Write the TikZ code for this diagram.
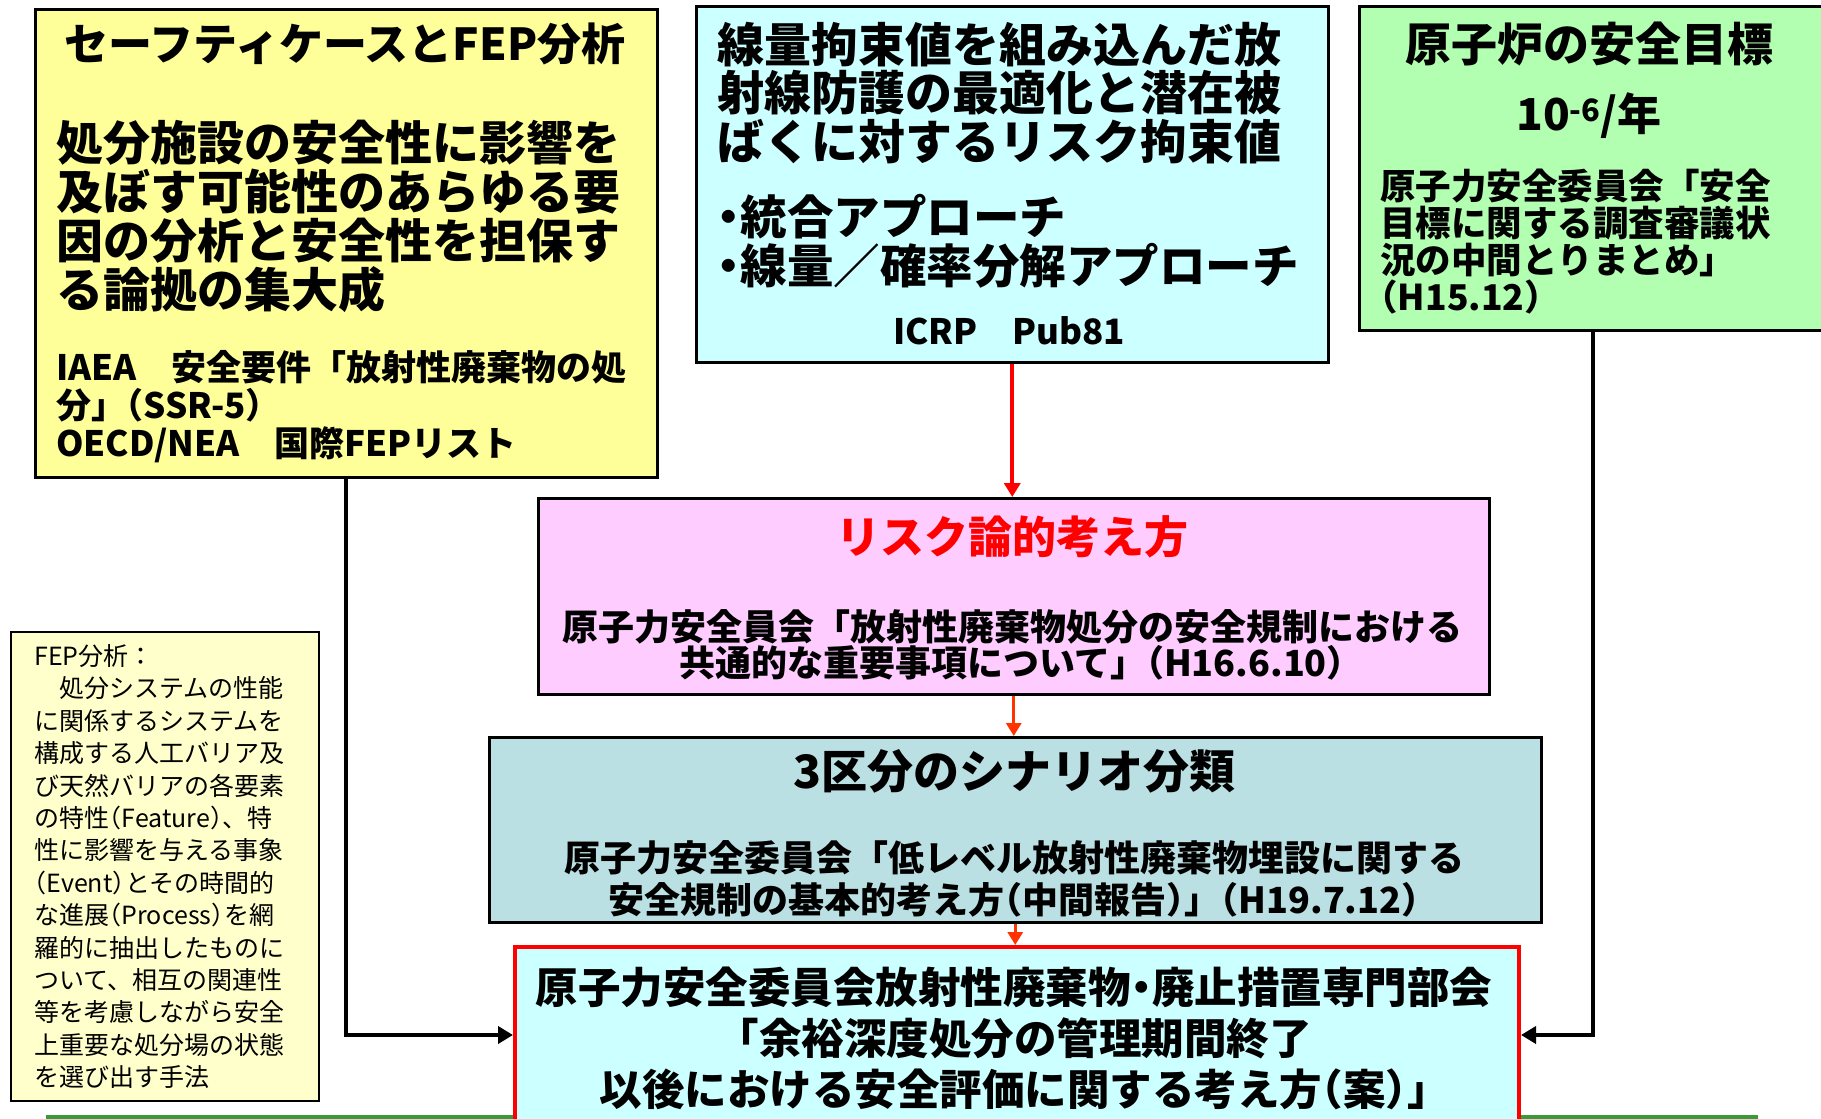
\documentclass[tikz,border=0pt]{standalone}
\usepackage{fontspec}
\setmainfont{Noto Sans CJK JP}
\usetikzlibrary{arrows.meta}
\definecolor{cyellow}{HTML}{FFFF99}
\definecolor{cnote}{HTML}{FFFFCC}
\definecolor{ccyan}{HTML}{CCFFFF}
\definecolor{cgreen}{HTML}{B2FFB2}
\definecolor{cpink}{HTML}{FFCCFF}
\definecolor{cteal}{HTML}{BBE0E3}
\definecolor{cline}{HTML}{3A9A3A}
\definecolor{corange}{HTML}{FF3300}
\newcommand\fsz[2]{\fontsize{#1}{#2}\selectfont}
\newcommand\ndot{\makebox[0.5em][c]{・}}
\newcommand\hw[1]{{\addfontfeature{RawFeature=+halt}#1}}
\tikzset{
  box/.style={draw=black, line width=2.5pt, anchor=north west, inner sep=0pt},
  txt/.style={inner sep=0pt, font=\bfseries},
  blackarrow/.style={draw=black, line width=4pt, -{Triangle[length=15pt,width=17pt]}},
  redarrow/.style={draw=red, line width=4pt, -{Triangle[length=14pt,width=16pt]}},
  orarrow/.style={draw=corange, line width=3pt, -{Triangle[length=13pt,width=15pt]}}
}
\begin{document}
\begin{tikzpicture}[x=1pt,y=-1pt]
\useasboundingbox[fill=white] (0,0) rectangle (1821,1119);

% green base line
\coordinate (la) at (46,1117);
\coordinate (lb) at (1758,1117);
\draw[cline, line width=4pt] (la) -- (lb);

% boxes
\node[box, fill=cyellow, minimum width=622pt, minimum height=468pt] (yl) at (34,8) {};
\node[box, fill=ccyan, minimum width=632pt, minimum height=356pt] (cy) at (695,5) {};
\node[box, fill=cgreen, minimum width=468pt, minimum height=324pt] (gr) at (1358,5) {};
\node[box, fill=cpink, minimum width=951pt, minimum height=196pt] (pk) at (537,497) {};
\node[box, fill=cteal, minimum width=1052pt, minimum height=185pt] (tl) at (488,736) {};
\node[box, fill=ccyan, draw=red, line width=4pt, minimum width=1004pt, minimum height=176pt] (bt) at (513,945) {};
\node[box, fill=cnote, line width=1.5pt, minimum width=308pt, minimum height=469pt] (fn) at (10,631) {};

% yellow box text
\node[txt, font=\bfseries\fsz{44}{48}] (yt) at (345,44) {セーフティケースとFEP分析};
\node[txt, font=\bfseries\fsz{47}{49}, align=left, anchor=west] (yb) at (56,216.5)
  {処分施設の安全性に影響を\\及ぼす可能性のあらゆる要\\因の分析と安全性を担保す\\る論拠の集大成};
\node[txt, font=\bfseries\fsz{35}{38}, align=left, anchor=west] (yr) at (56,407)
  {IAEA　安全要件「放射性廃棄物の処\\分\hw{」}（SSR-5\hw{）}\\OECD/NEA　国際FEPリスト};

% cyan box text
\node[txt, font=\bfseries\fsz{47}{48.5}, align=left, anchor=west] (ct) at (717,93)
  {線量拘束値を組み込んだ放\\射線防護の最適化と潜在被\\ばくに対するリスク拘束値};
\node[txt, font=\bfseries\fsz{46.5}{49}, align=left, anchor=west] (cb) at (717,241.5)
  {\ndot 統合アプローチ\\\ndot 線量／確率分解アプローチ};
\node[txt, font=\bfseries\fsz{35}{38}] (cr) at (1009,331) {ICRP　Pub81};

% green box text
\node[txt, font=\bfseries\fsz{46}{50}] (gt) at (1589,44) {原子炉の安全目標};
\node[txt, font=\bfseries\fsz{44}{48}] (gn) at (1589,116) {10\textsuperscript{-6}/年};
\node[txt, font=\bfseries\fsz{35.5}{37}, align=left, anchor=west] (gb) at (1380,241.5)
  {原子力安全委員会「安全\\目標に関する調査審議状\\況の中間とりまとめ」\\\hw{（}H15.12\hw{）}};

% pink box text
\node[txt, font=\bfseries\fsz{44}{48}, text=red] (pt) at (1012,537) {リスク論的考え方};
\node[txt, font=\bfseries\fsz{36}{36}, align=center] (pb) at (1012,645)
  {原子力安全員会「放射性廃棄物処分の安全規制における\\共通的な重要事項について\hw{」}（H16.6.10\hw{）}};

% teal box text
\node[txt, font=\bfseries\fsz{46}{50}] (tt) at (1014,771) {3区分のシナリオ分類};
\node[txt, font=\bfseries\fsz{36}{42}, align=center] (tb) at (1014,879)
  {原子力安全委員会「低レベル放射性廃棄物埋設に関する\\安全規制の基本的考え方\hw{（}中間報告\hw{）」}（H19.7.12\hw{）}};

% bottom box text
\node[txt, font=\bfseries\fsz{42.5}{51}, align=center] (bb) at (1014,1038)
  {原子力安全委員会放射性廃棄物\ndot 廃止措置専門部会\\「余裕深度処分の管理期間終了\\以後における安全評価に関する考え方\hw{（}案\hw{）」}};

% FEP note text
\node[inner sep=0pt, font=\fsz{25}{32.4}, align=left, anchor=west] (fnt) at (34,866.6)
  {FEP分析：\\　処分システムの性能\\に関係するシステムを\\構成する人工バリア及\\び天然バリアの各要素\\の特性\hw{（}Feature\hw{）}、特\\性に影響を与える事象\\\hw{（}Event\hw{）}とその時間的\\な進展\hw{（}Process\hw{）}を網\\羅的に抽出したものに\\ついて、相互の関連性\\等を考慮しながら安全\\上重要な処分場の状態\\を選び出す手法};

% connectors
\draw[redarrow] (cy.south) -- (cy.south |- pk.north);
\draw[orarrow] (pk.south) -- (pk.south |- tl.north);
\draw[orarrow] (tl.south) -- (tl.south |- bt.north);
\draw[blackarrow] (yl.south) |- (bt.west);
\draw[blackarrow] (gr.south) |- (bt.east);
\end{tikzpicture}
\end{document}
